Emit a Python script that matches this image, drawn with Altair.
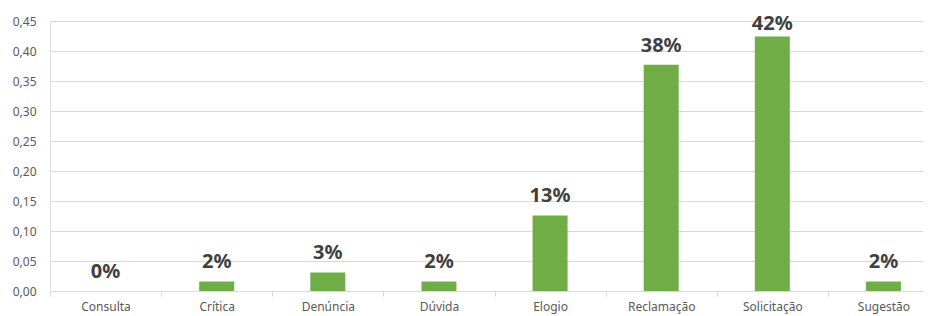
import altair as alt
import pandas as pd

categories = ["Consulta", "Crítica", "Denúncia", "Dúvida", "Elogio", "Reclamação", "Solicitação", "Sugestão"]
values = [0.0, 0.016, 0.031, 0.016, 0.126, 0.377, 0.424, 0.016]
y_ticks = [0.0, 0.05, 0.10, 0.15, 0.20, 0.25, 0.30, 0.35, 0.40, 0.45]

df = pd.DataFrame({"cat": categories, "value": values})

FONT = "Noto Sans"

x_scale = alt.Scale(paddingInner=0, paddingOuter=0, range=[0, 889])
x_axis = alt.Axis(labelAngle=0, labelFontSize=12, labelColor="#595959", labelFont=FONT,
                  domainColor="#d9d9d9", tickColor="#d9d9d9", tickSize=5,
                  labelPadding=5, tickBand="extent", grid=False, labelOverlap=False)
y_scale = alt.Scale(domain=[0, 0.45], nice=False, zero=True)
y_axis = alt.Axis(values=y_ticks, tickCount=10,
                  labelExpr="replace(format(datum.value, '.2f'), '.', ',')",
                  labelFontSize=12, labelColor="#595959", labelFont=FONT,
                  domain=False, ticks=False, labelPadding=14, labelOverlap=False,
                  gridColor="#d9d9d9", gridWidth=1)

bars = alt.Chart(df).mark_bar(color="#70AD47", size=35).encode(
    x=alt.X("cat:N", sort=categories, title=None, scale=x_scale, axis=x_axis),
    y=alt.Y("value:Q", title=None, scale=y_scale, axis=y_axis),
)

labels = alt.Chart(df).transform_calculate(
    ly="min(datum.value, 0.413)",
    lbl="format(datum.value, '.0%')"
).mark_text(baseline="bottom", dy=-9, fontSize=20, fontWeight="bold", color="#404040", font=FONT).encode(
    x=alt.X("cat:N", sort=categories, title=None, scale=x_scale, axis=x_axis),
    y=alt.Y("ly:Q", title=None, scale=y_scale, axis=y_axis),
    text="lbl:N",
)

chart = alt.layer(bars, labels).properties(
    width=873, height=270,
    autosize=alt.AutoSizeParams(type="none"),
    padding={"left": 42, "top": 13, "right": 0, "bottom": 30},
).configure_view(stroke=None).configure(background="white")

chart.save("out.html", embed_options={"renderer": "svg", "actions": False})
